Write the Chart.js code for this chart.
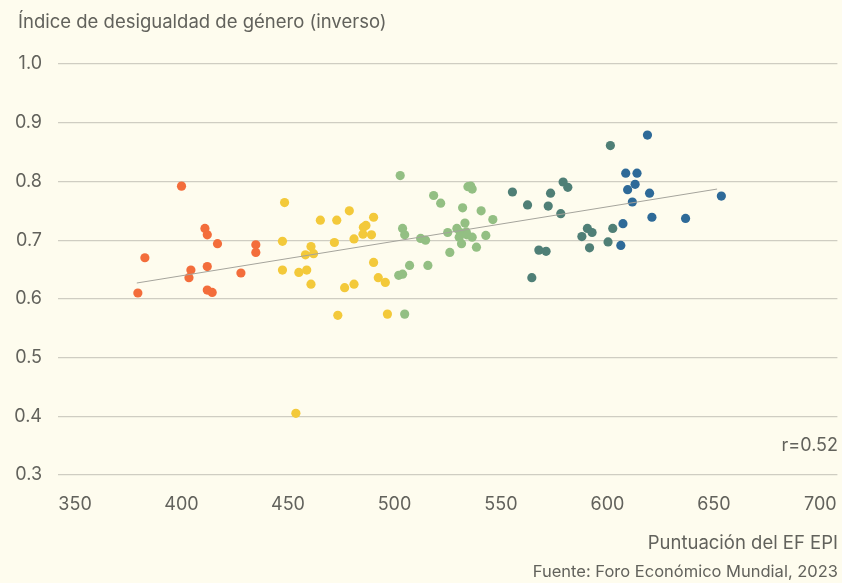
<!DOCTYPE html>
<html><head><meta charset="utf-8">
<script src="https://cdn.jsdelivr.net/npm/chart.js@4"></script>
<style>html,body{margin:0;padding:0;background:#fefcee;}#wrap{width:842px;height:583px;}</style>
</head><body><div id="wrap"><canvas id="c" width="842" height="583"></canvas></div>
<script>
const titleY = "Índice de desigualdad de género (inverso)";
const titleX = "Puntuación del EF EPI";
const sourceText = "Fuente: Foro Económico Mundial, 2023";
const rText = "r=0.52";
const xTicks = [350, 400, 450, 500, 550, 600, 650, 700];
const yTicks = [0.3, 0.4, 0.5, 0.6, 0.7, 0.8, 0.9, 1.0];

const orangeX = [400.0, 411.0, 412.1, 416.9, 434.9, 434.9, 382.8, 404.4, 412.1, 403.5, 427.9, 379.5, 412.1, 414.4];
const orangeY = [0.792, 0.720, 0.709, 0.694, 0.692, 0.679, 0.670, 0.649, 0.655, 0.636, 0.644, 0.610, 0.615, 0.611];

const yellowX = [448.4, 465.2, 472.9, 478.8, 490.2, 485.4, 486.6, 485.2, 489.2, 481.0, 447.4, 471.8, 460.8, 458.2, 462.0, 490.2, 447.4, 455.1, 458.8, 460.8, 492.4, 495.7, 481.0, 476.6, 473.4, 496.7, 453.7];
const yellowY = [0.764, 0.734, 0.734, 0.750, 0.739, 0.722, 0.725, 0.710, 0.709, 0.702, 0.698, 0.696, 0.689, 0.675, 0.677, 0.662, 0.649, 0.645, 0.649, 0.625, 0.636, 0.628, 0.625, 0.619, 0.572, 0.574, 0.405];

const greenX = [502.7, 534.5, 535.8, 536.5, 518.4, 521.7, 532.0, 540.7, 546.2, 533.1, 503.8, 504.8, 525.0, 529.3, 530.9, 533.7, 530.4, 534.0, 512.3, 514.6, 507.1, 515.7, 502.0, 503.8, 504.8, 526.0, 538.5, 531.5, 536.5, 542.9];
const greenY = [0.810, 0.791, 0.792, 0.787, 0.776, 0.763, 0.755, 0.750, 0.735, 0.729, 0.720, 0.709, 0.713, 0.720, 0.713, 0.714, 0.705, 0.709, 0.703, 0.700, 0.657, 0.657, 0.640, 0.642, 0.574, 0.679, 0.688, 0.694, 0.705, 0.708];

const tealX = [555.4, 562.5, 573.3, 572.2, 579.2, 581.4, 578.1, 590.6, 592.8, 588.0, 602.5, 600.3, 591.6, 567.8, 571.2, 564.5, 601.4];
const tealY = [0.782, 0.760, 0.780, 0.758, 0.799, 0.790, 0.745, 0.720, 0.713, 0.706, 0.720, 0.697, 0.687, 0.683, 0.681, 0.636, 0.861];

const blueX = [618.8, 608.6, 613.9, 613.0, 609.5, 619.8, 611.7, 653.5, 620.9, 636.7, 607.3, 606.3];
const blueY = [0.879, 0.814, 0.814, 0.795, 0.786, 0.780, 0.765, 0.775, 0.739, 0.737, 0.728, 0.691];

const trendX = [379.0, 651.5];
const trendY = [0.627, 0.787];

const pts = (xs, ys) => xs.map((x, i) => ({x: x, y: ys[i]}));
const FONT = "Inter, 'Noto Sans', sans-serif";
const TXT = '#62625c';

const textPlugin = {
  id: 'texts',
  afterDraw(chart) {
    const ctx = chart.ctx;
    ctx.save();
    ctx.fillStyle = TXT;
    ctx.textBaseline = 'middle';
    ctx.font = "18.5px " + FONT;
    ctx.textAlign = 'left';
    ctx.fillText(titleY, 18, 22);
    ctx.textAlign = 'right';
    ctx.font = "18px " + FONT;
    ctx.fillText(rText, 838, 446);
    ctx.font = "18.5px " + FONT;
    ctx.fillText(titleX, 838, 543);
    ctx.font = "16.5px " + FONT;
    ctx.fillText(sourceText, 838, 572);
    ctx.restore();
  }
};

const ds = (data, color) => ({type: 'scatter', data: data, backgroundColor: color, borderWidth: 0, pointRadius: 4.6, pointHoverRadius: 4.6});

new Chart(document.getElementById('c'), {
  type: 'scatter',
  data: {
    datasets: [
      {type: 'line', data: pts(trendX, trendY), borderColor: '#a5a49c', borderWidth: 1, pointRadius: 0, fill: false},
      ds(pts(orangeX, orangeY), '#f36d3b'),
      ds(pts(yellowX, yellowY), '#f3c93a'),
      ds(pts(greenX, greenY), '#93bf83'),
      ds(pts(tealX, tealY), '#4f7f76'),
      ds(pts(blueX, blueY), '#2e6a98')
    ]
  },
  options: {
    responsive: false,
    animation: false,
    events: [],
    layout: {padding: {left: 0, right: 3, top: 64, bottom: 63}},
    plugins: {legend: {display: false}, tooltip: {enabled: false}, title: {display: false}},
    scales: {
      x: {
        type: 'linear', min: 342, max: 708,
        afterBuildTicks(axis) { axis.ticks = xTicks.map(v => ({value: v})); },
        afterFit(axis) { axis.height = 45; axis.paddingLeft = 0; axis.paddingRight = 0; },
        grid: {display: false, drawTicks: false},
        border: {display: false},
        ticks: {padding: 19, color: TXT, font: {family: FONT, size: 18}, maxRotation: 0, autoSkip: false}
      },
      y: {
        type: 'linear', min: 0.3, max: 1.0,
        afterBuildTicks(axis) { axis.ticks = yTicks.map(v => ({value: v})); },
        afterFit(axis) { axis.width = 58; axis.paddingTop = 0; axis.paddingBottom = 0; },
        grid: {color: '#cfcdc2', lineWidth: 1.2, drawTicks: false},
        border: {display: false},
        ticks: {padding: 16, color: TXT, font: {family: FONT, size: 18}, callback: v => v.toFixed(1)}
      }
    }
  },
  plugins: [textPlugin]
});
</script>
</body></html>
